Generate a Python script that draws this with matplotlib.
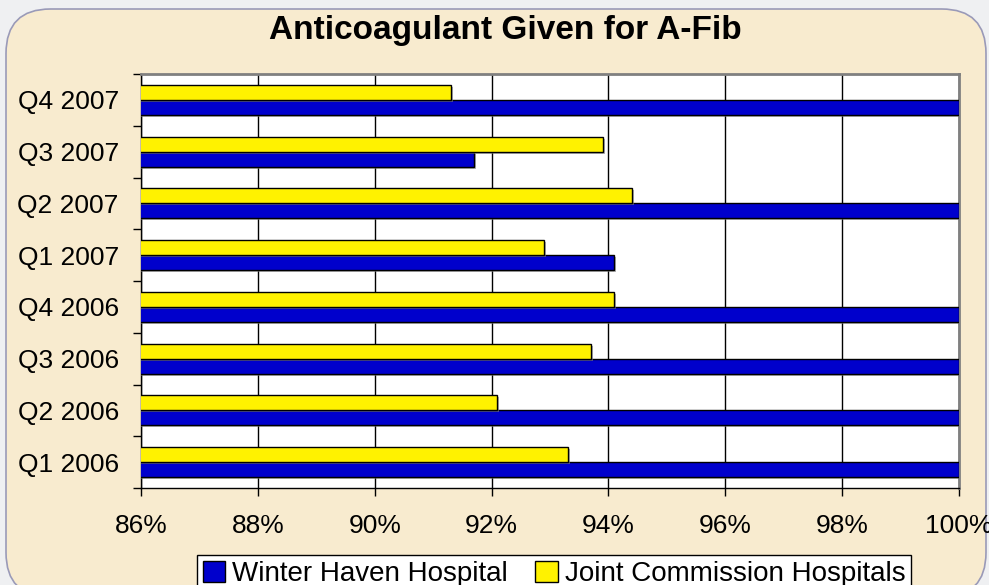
import numpy as np
import matplotlib
matplotlib.use('Agg')
import matplotlib.pyplot as plt
from matplotlib.patches import FancyBboxPatch, Patch
from matplotlib.ticker import FixedLocator, FuncFormatter
import matplotlib.patheffects as pe

plt.rcParams['font.family'] = ['Liberation Sans', 'DejaVu Sans']

# data (bottom to top)
quarters = ['Q1 2006', 'Q2 2006', 'Q3 2006', 'Q4 2006',
            'Q1 2007', 'Q2 2007', 'Q3 2007', 'Q4 2007']
winter_haven = [100.0, 100.0, 100.0, 100.0, 94.1, 100.0, 91.7, 100.0]
joint_comm = [93.3, 92.1, 93.7, 94.1, 92.9, 94.4, 93.9, 91.3]
xticks = [86, 88, 90, 92, 94, 96, 98, 100]

W, H = 989, 585
fig = plt.figure(figsize=(W / 100, H / 100), dpi=100)
fig.patch.set_facecolor('#eff0f2')

# rounded parchment panel, kept behind the axes
panel = FancyBboxPatch((6 / W, -12 / H), 980 / W, (H - 9 + 12) / H,
                       boxstyle='round,pad=0,rounding_size=0.045',
                       transform=fig.transFigure, facecolor='#f8ebcf',
                       edgecolor='#9a9ab8', linewidth=1.2, mutation_aspect=W / H,
                       zorder=-10)
fig.patches.append(panel)

ax = fig.add_axes([141 / W, 1 - 488 / H, 818 / W, 414 / H])
ax.set_zorder(1)
ax.set_facecolor('white')

y = np.arange(len(quarters))
h = 0.29
shadow = [pe.SimplePatchShadow(offset=(1.5, -1.5), shadow_rgbFace='#808080', alpha=0.6), pe.Normal()]
ax.barh(y - h / 2, winter_haven, height=h, color='#0000cc', edgecolor='black',
        linewidth=1, path_effects=shadow, zorder=3)
ax.barh(y + h / 2, joint_comm, height=h, color='#fff200', edgecolor='black',
        linewidth=1, path_effects=shadow, zorder=3)

ax.set_xlim(86, 100)
ax.set_ylim(-0.5, len(quarters) - 0.5)
ax.set_xticks(xticks)
ax.xaxis.set_major_formatter(FuncFormatter(lambda v, p: '%d%%' % v))
ax.set_yticks(y)
ax.set_yticklabels(quarters)
ax.yaxis.set_minor_locator(FixedLocator(np.arange(-0.5, len(quarters), 1)))
ax.tick_params(axis='y', which='major', length=0, pad=16, labelsize=19)
ax.tick_params(axis='y', which='minor', length=6, width=1, direction='out')
ax.tick_params(axis='x', which='major', length=6, width=1, direction='out', pad=13, labelsize=19)

ax.grid(axis='x', color='black', linewidth=1, zorder=1)
ax.set_axisbelow(True)
for s in ['left', 'bottom']:
    ax.spines[s].set_color('black')
    ax.spines[s].set_linewidth(1)
for s in ['top', 'right']:
    ax.spines[s].set_color('#808080')
    ax.spines[s].set_linewidth(2)

fig.text(505 / W, 1 - 30 / H, 'Anticoagulant Given for A-Fib', ha='center', va='center',
         fontsize=24, fontweight='bold')

handles = [Patch(facecolor='#0000cc', edgecolor='black', label='Winter Haven Hospital'),
           Patch(facecolor='#fff200', edgecolor='black', label='Joint Commission Hospitals')]
leg = fig.legend(handles=handles, loc='upper center', bbox_to_anchor=(554 / W, 1 - 555 / H),
                 ncol=2, frameon=True, fancybox=False, fontsize=20, handlelength=0.8,
                 handleheight=0.8, handletextpad=0.25, columnspacing=1.0,
                 borderpad=0.2, borderaxespad=0, framealpha=1)
leg.get_frame().set_edgecolor('black')
leg.get_frame().set_linewidth(1)

fig.savefig('out.png', dpi=100, facecolor=fig.get_facecolor())
